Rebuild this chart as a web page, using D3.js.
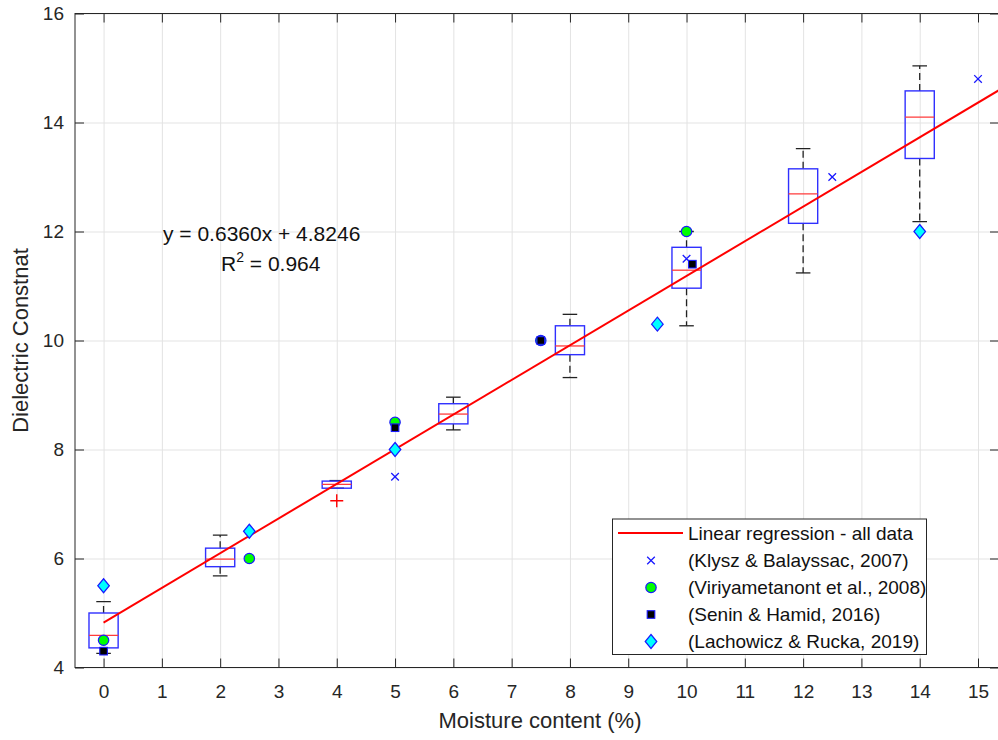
<!DOCTYPE html>
<html>
<head>
<meta charset="utf-8">
<script src="https://cdn.jsdelivr.net/npm/d3@7"></script>
<style>
  html, body { margin: 0; padding: 0; background: #fff; }
  svg { display: block; font-family: "Liberation Sans", Arial, sans-serif; }
</style>
</head>
<body>
<svg id="chart" width="998" height="740"></svg>
<script>
// ---------- data ----------
const xTickValues = [0,1,2,3,4,5,6,7,8,9,10,11,12,13,14,15];
const yTickValues = [4,6,8,10,12,14,16];

const boxPositions = [0, 2, 4, 6, 8, 10, 12, 14];
const boxLower     = [4.26, 5.68, 7.29, 8.36, 9.32, 10.27, 11.24, 12.18];
const boxQ1        = [4.36, 5.85, 7.29, 8.47, 9.74, 10.96, 12.15, 13.34];
const boxMedian    = [4.59, 5.99, 7.36, 8.65, 9.90, 11.29, 12.69, 14.10];
const boxQ3        = [5.00, 6.19, 7.42, 8.84, 10.27, 11.71, 13.15, 14.58];
const boxUpper     = [5.21, 6.43, 7.43, 8.96, 10.48, 12.00, 13.52, 15.04];
const outlierX     = [4];
const outlierY     = [7.06];

const klyszX = [5, 10, 12.5, 15];
const klyszY = [7.5, 11.5, 13.0, 14.8];
const viriX  = [0, 2.5, 5, 7.5, 10];
const viriY  = [4.5, 6.0, 8.5, 10.0, 12.0];
const seninX = [0, 5, 7.5, 10.1];
const seninY = [4.3, 8.4, 10.0, 11.4];
const lachX  = [0, 2.5, 5, 9.5, 14];
const lachY  = [5.5, 6.5, 8.0, 10.3, 12.0];

const regSlope = 0.6360;
const regIntercept = 4.8246;

const legendLabels = [
  "Linear regression - all data",
  "(Klysz & Balayssac, 2007)",
  "(Viriyametanont et al., 2008)",
  "(Senin & Hamid, 2016)",
  "(Lachowicz & Rucka, 2019)"
];
const eqText = "y = 0.6360x + 4.8246";
const r2Text = "0.964";
const xLabel = "Moisture content (%)";
const yLabel = "Dielectric Constnat";

// ---------- layout ----------
const L = 75, R = 999, T = 13.5, B = 667.5;
const txtColor = "#262626";
const svg = d3.select("#chart");

const x = d3.scaleLinear().domain([-0.49, 15.36]).range([L, R]);
const y = d3.scaleLinear().domain([4, 16]).range([B, T]);

const defs = svg.append("defs");
defs.append("clipPath").attr("id", "plotclip")
  .append("rect").attr("x", L).attr("y", T).attr("width", R - L).attr("height", B - T);

// grid
const grid = svg.append("g").attr("class", "grid");
grid.append("g").attr("transform", `translate(0,${B})`)
  .call(d3.axisBottom(x).tickValues(xTickValues).tickSize(-(B - T)).tickFormat(""))
  .call(g => g.select(".domain").remove())
  .call(g => g.selectAll("line").attr("stroke", "#e3e3e3").attr("stroke-width", 1));
grid.append("g").attr("transform", `translate(${L},0)`)
  .call(d3.axisLeft(y).tickValues(yTickValues).tickSize(-(R - L)).tickFormat(""))
  .call(g => g.select(".domain").remove())
  .call(g => g.selectAll("line").attr("stroke", "#e3e3e3").attr("stroke-width", 1));

// axes
const tickLen = 9;
function styleAxis(g) {
  g.select(".domain").remove();
  g.selectAll("line").attr("stroke", txtColor).attr("stroke-width", 1);
  g.selectAll("text").attr("fill", txtColor).style("font-size", "19px")
    .style("font-family", '"Liberation Sans", Arial, sans-serif');
}
svg.append("g").attr("transform", `translate(0,${B})`)
  .call(d3.axisBottom(x).tickValues(xTickValues).tickSizeInner(-tickLen).tickSizeOuter(0).tickPadding(17.5))
  .call(styleAxis);
svg.append("g").attr("transform", `translate(0,${T})`)
  .call(d3.axisTop(x).tickValues(xTickValues).tickSizeInner(-tickLen).tickSizeOuter(0).tickFormat(""))
  .call(styleAxis);
svg.append("g").attr("transform", `translate(${L},0)`)
  .call(d3.axisLeft(y).tickValues(yTickValues).tickSizeInner(-tickLen).tickSizeOuter(0).tickPadding(11))
  .call(styleAxis);
svg.append("g").attr("transform", `translate(${R},0)`)
  .call(d3.axisRight(y).tickValues(yTickValues).tickSizeInner(-tickLen).tickSizeOuter(0).tickFormat(""))
  .call(styleAxis);

// frame
svg.append("rect").attr("x", L).attr("y", T).attr("width", R - L).attr("height", B - T)
  .attr("fill", "none").attr("stroke", txtColor).attr("stroke-width", 1);

// ---------- plot content ----------
const plot = svg.append("g").attr("clip-path", "url(#plotclip)");

const boxes = boxPositions.map((p, i) => ({
  p, lo: boxLower[i], q1: boxQ1[i], med: boxMedian[i], q3: boxQ3[i], hi: boxUpper[i]
}));
const halfW = 0.25, capHalf = 0.125;
const bg = plot.append("g");
// whiskers (dashed)
bg.selectAll("line.wu").data(boxes).join("line")
  .attr("x1", d => x(d.p)).attr("x2", d => x(d.p))
  .attr("y1", d => y(d.q3)).attr("y2", d => y(d.hi))
  .attr("stroke", "#222").attr("stroke-width", 1.3).attr("stroke-dasharray", "7,4");
bg.selectAll("line.wl").data(boxes).join("line")
  .attr("x1", d => x(d.p)).attr("x2", d => x(d.p))
  .attr("y1", d => y(d.q1)).attr("y2", d => y(d.lo))
  .attr("stroke", "#222").attr("stroke-width", 1.3).attr("stroke-dasharray", "7,4");
// caps
["hi", "lo"].forEach(k => {
  bg.selectAll(null).data(boxes).join("line")
    .attr("x1", d => x(d.p - capHalf)).attr("x2", d => x(d.p + capHalf))
    .attr("y1", d => y(d[k])).attr("y2", d => y(d[k]))
    .attr("stroke", "#222").attr("stroke-width", 1.3);
});
// boxes
bg.selectAll(null).data(boxes).join("rect")
  .attr("x", d => x(d.p - halfW)).attr("width", d => x(d.p + halfW) - x(d.p - halfW))
  .attr("y", d => y(d.q3)).attr("height", d => y(d.q1) - y(d.q3))
  .attr("fill", "none").attr("stroke", "#3030ff").attr("stroke-width", 1.4);
// medians
bg.selectAll(null).data(boxes).join("line")
  .attr("x1", d => x(d.p - halfW)).attr("x2", d => x(d.p + halfW))
  .attr("y1", d => y(d.med)).attr("y2", d => y(d.med))
  .attr("stroke", "#ff3b3b").attr("stroke-width", 1.3);
// outliers (+)
const plusSize = 6.5;
bg.selectAll(null).data(outlierX.map((v, i) => [v, outlierY[i]])).join("path")
  .attr("d", d => {
    const cx = x(d[0]), cy = y(d[1]);
    return `M${cx - plusSize},${cy}H${cx + plusSize}M${cx},${cy - plusSize}V${cy + plusSize}`;
  })
  .attr("stroke", "#ff0000").attr("stroke-width", 1.4).attr("fill", "none");

// regression line
const regX = [0, x.domain()[1]];
plot.append("path")
  .datum(regX)
  .attr("d", d3.line().x(d => x(d)).y(d => y(regSlope * d + regIntercept)))
  .attr("stroke", "#ff0000").attr("stroke-width", 2).attr("fill", "none");

// markers
function markX(g, cx, cy) {
  const s = 3.8;
  g.append("path").attr("d", `M${cx - s},${cy - s}L${cx + s},${cy + s}M${cx - s},${cy + s}L${cx + s},${cy - s}`)
    .attr("stroke", "#1a1aff").attr("stroke-width", 1.3).attr("fill", "none");
}
function markCircle(g, cx, cy) {
  g.append("circle").attr("cx", cx).attr("cy", cy).attr("r", 5.2)
    .attr("fill", "#00ff00").attr("stroke", "#1a1aff").attr("stroke-width", 1.2);
}
function markSquare(g, cx, cy) {
  const s = 3.8;
  g.append("rect").attr("x", cx - s).attr("y", cy - s).attr("width", 2 * s).attr("height", 2 * s)
    .attr("fill", "#000").attr("stroke", "#1a1aff").attr("stroke-width", 1.1);
}
function markDiamond(g, cx, cy) {
  const w = 5.8, h = 7;
  g.append("path").attr("d", `M${cx},${cy - h}L${cx + w},${cy}L${cx},${cy + h}L${cx - w},${cy}Z`)
    .attr("fill", "#00ffff").attr("stroke", "#1a1aff").attr("stroke-width", 1.2);
}
const mg = plot.append("g");
klyszX.forEach((v, i) => markX(mg, x(v), y(klyszY[i])));
viriX.forEach((v, i) => markCircle(mg, x(v), y(viriY[i])));
seninX.forEach((v, i) => markSquare(mg, x(v), y(seninY[i])));
lachX.forEach((v, i) => markDiamond(mg, x(v), y(lachY[i])));

// annotation
const ann = svg.append("g").attr("fill", "#111").style("font-size", "21px");
ann.append("text").attr("x", 163).attr("y", 241).text(eqText);
const r2 = ann.append("text").attr("x", 221).attr("y", 271);
r2.append("tspan").text("R");
r2.append("tspan").attr("dy", -9).style("font-size", "14px").text("2");
r2.append("tspan").attr("dy", 9).text(" = " + r2Text);

// axis labels
svg.append("text").attr("x", 540).attr("y", 728).attr("text-anchor", "middle")
  .attr("fill", txtColor).style("font-size", "22px").text(xLabel);
svg.append("text").attr("transform", `translate(28,${(T + B) / 2}) rotate(-90)`)
  .attr("text-anchor", "middle").attr("fill", txtColor).style("font-size", "22px").text(yLabel);

// legend
const lg = svg.append("g");
lg.append("rect").attr("x", 612.5).attr("y", 519).attr("width", 314).attr("height", 135.5)
  .attr("fill", "#fff").attr("stroke", txtColor).attr("stroke-width", 1);
const rowY = [533, 560.5, 587.5, 614.5, 641.5];
const mx = 651;
lg.append("line").attr("x1", 618).attr("x2", 683).attr("y1", rowY[0]).attr("y2", rowY[0])
  .attr("stroke", "#ff0000").attr("stroke-width", 2);
markX(lg, mx, rowY[1]);
markCircle(lg, mx, rowY[2]);
markSquare(lg, mx, rowY[3]);
markDiamond(lg, mx, rowY[4]);
lg.selectAll("text.lt").data(legendLabels).join("text")
  .attr("x", 688).attr("y", (d, i) => rowY[i]).attr("dy", "0.35em")
  .attr("fill", "#111").style("font-size", "19px").text(d => d);
</script>
</body>
</html>
